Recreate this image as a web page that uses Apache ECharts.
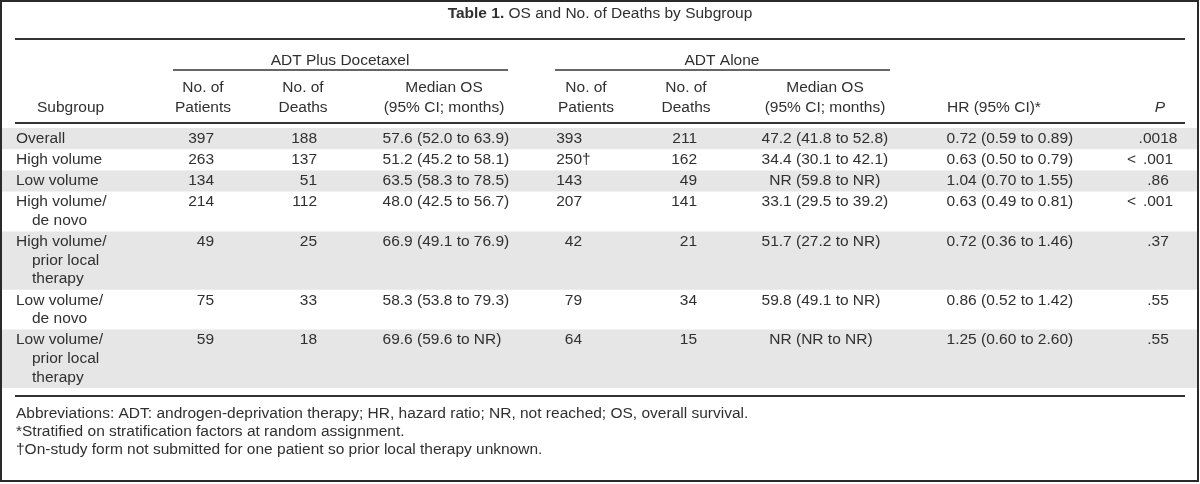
<!DOCTYPE html>
<html>
<head>
<meta charset="utf-8">
<script src="https://cdn.jsdelivr.net/npm/echarts@6/dist/echarts.min.js"></script>
<style>
html,body{margin:0;padding:0;background:#ffffff;}
#chart{width:1200px;height:484px;}
</style>
</head>
<body>
<div id="chart"></div>
<script>
// ---------------- DATA ----------------
const tableLabel = 'Table 1.';
const tableTitle = 'OS and No. of Deaths by Subgroup';
const groupHeaders = ['ADT Plus Docetaxel', 'ADT Alone'];
const columnHeaders = [
  ['Subgroup'],
  ['No. of', 'Patients'], ['No. of', 'Deaths'], ['Median OS', '(95% CI; months)'],
  ['No. of', 'Patients'], ['No. of', 'Deaths'], ['Median OS', '(95% CI; months)'],
  ['HR (95% CI)*'], ['P']
];
const subgroups = [
  ['Overall'],
  ['High volume'],
  ['Low volume'],
  ['High volume/', 'de novo'],
  ['High volume/', 'prior local', 'therapy'],
  ['Low volume/', 'de novo'],
  ['Low volume/', 'prior local', 'therapy']
];
const docPatients = [397, 263, 134, 214, 49, 75, 59];
const docDeaths = [188, 137, 51, 112, 25, 33, 18];
const docMedianOS = ['57.6 (52.0 to 63.9)', '51.2 (45.2 to 58.1)', '63.5 (58.3 to 78.5)', '48.0 (42.5 to 56.7)', '66.9 (49.1 to 76.9)', '58.3 (53.8 to 79.3)', '69.6 (59.6 to NR)'];
const adtPatients = [393, 250, 143, 207, 42, 79, 64];
const adtPatientMarks = ['', '†', '', '', '', '', ''];
const adtDeaths = [211, 162, 49, 141, 21, 34, 15];
const adtMedianOS = ['47.2 (41.8 to 52.8)', '34.4 (30.1 to 42.1)', 'NR (59.8 to NR)', '33.1 (29.5 to 39.2)', '51.7 (27.2 to NR)', '59.8 (49.1 to NR)', 'NR (NR to NR)'];
const hazardRatios = ['0.72 (0.59 to 0.89)', '0.63 (0.50 to 0.79)', '1.04 (0.70 to 1.55)', '0.63 (0.49 to 0.81)', '0.72 (0.36 to 1.46)', '0.86 (0.52 to 1.42)', '1.25 (0.60 to 2.60)'];
const pValues = ['.0018', '< .001', '.86', '< .001', '.37', '.55', '.55'];
const footnotes = [
  'Abbreviations: ADT: androgen-deprivation therapy; HR, hazard ratio; NR, not reached; OS, overall survival.',
  '*Stratified on stratification factors at random assignment.',
  '†On-study form not submitted for one patient so prior local therapy unknown.'
];

// ---------------- STYLE / LAYOUT ----------------
const FONT_FAMILY = '"Liberation Sans", Arial, Helvetica, sans-serif';
const FS = 15.5;
const FONT = FS + 'px ' + FONT_FAMILY;
const TEXT = '#303030';
const RULE = '#333333';
const BAND = '#e6e6e6';
const L = {
  sub: 16, indent: 16,
  docPat: 214, docDeath: 317, docParen: 417,
  adtPat: 582, adtDeath: 697, adtParen: 796,
  hrParen: 981, pCenter: 1158,
  bandLeft: 2, bandRight: 1197
};
const H = {
  subgroup: 37, docPat: 203, docDeath: 303, docMed: 444,
  adtPat: 586, adtDeath: 686, adtMed: 825, hr: 947, p: 1160
};
const ROW_PAD = 0.14; // in line units

const measureCtx = document.createElement('canvas').getContext('2d');
function textWidth(t, font) { measureCtx.font = font || FONT; return measureCtx.measureText(t).width; }

function txt(text, x, y, align, extra) {
  const st = Object.assign({
    text: text, fill: TEXT, font: FONT,
    align: align, textAlign: align,
    verticalAlign: 'middle', textVerticalAlign: 'middle'
  }, extra || {});
  return { type: 'text', x: x, y: y, style: st, silent: true };
}
function splitCI(s) {
  const k = s.indexOf(' (');
  return [s.slice(0, k), s.slice(k + 1)];
}

// row layout in "line" units, derived from number of label lines
let cursor = 0;
const rowData = subgroups.map(function (s, i) {
  const r = [i, cursor, s.length];
  cursor += s.length + ROW_PAD;
  return r;
});
const TOTAL_UNITS = cursor;

function renderRow(params, api) {
  const i = api.value(0), start = api.value(1), n = api.value(2);
  const X = function (v) { return api.coord([v, 0])[0]; };
  const yTop = api.coord([0, start])[1];
  const yBot = api.coord([0, start + n + ROW_PAD])[1];
  const lineY = function (k) { return api.coord([0, start + ROW_PAD / 2 + k + 0.5])[1]; };
  const children = [];
  if (i % 2 === 0) {
    children.push({ type: 'rect', shape: { x: X(L.bandLeft), y: yTop, width: X(L.bandRight) - X(L.bandLeft), height: yBot - yTop }, style: { fill: BAND }, silent: true });
  }
  subgroups[i].forEach(function (t, k) {
    children.push(txt(t, X(k ? L.sub + L.indent : L.sub), lineY(k), 'left'));
  });
  const y0 = lineY(0);
  const sp = textWidth(' ');
  children.push(txt(String(docPatients[i]), X(L.docPat), y0, 'right'));
  children.push(txt(String(docDeaths[i]), X(L.docDeath), y0, 'right'));
  let p = splitCI(docMedianOS[i]);
  children.push(txt(p[0], X(L.docParen) - sp, y0, 'right'));
  children.push(txt(p[1], X(L.docParen), y0, 'left'));
  children.push(txt(String(adtPatients[i]), X(L.adtPat), y0, 'right'));
  if (adtPatientMarks[i]) children.push(txt(adtPatientMarks[i], X(L.adtPat), y0, 'left'));
  children.push(txt(String(adtDeaths[i]), X(L.adtDeath), y0, 'right'));
  p = splitCI(adtMedianOS[i]);
  children.push(txt(p[0], X(L.adtParen) - sp, y0, 'right'));
  children.push(txt(p[1], X(L.adtParen), y0, 'left'));
  p = splitCI(hazardRatios[i]);
  children.push(txt(p[0], X(L.hrParen) - sp, y0, 'right'));
  children.push(txt(p[1], X(L.hrParen), y0, 'left'));
  const pv = pValues[i];
  if (pv.indexOf('< ') === 0) {
    const num = pv.slice(2);
    const w = textWidth(num);
    children.push(txt(num, X(L.pCenter), y0, 'center'));
    children.push(txt('<', X(L.pCenter) - w / 2 - sp * 1.6, y0, 'right'));
  } else {
    children.push(txt(pv, X(L.pCenter), y0, 'center'));
  }
  return { type: 'group', children: children };
}

// ---------------- STATIC GRAPHICS (title, headers, rules, notes) ----------------
const g = [];
g.push({ type: 'rect', shape: { x: 1, y: 1, width: 1197, height: 480 }, style: { fill: null, stroke: '#2a2a2a', lineWidth: 2 }, silent: true });
g.push({
  type: 'text', x: 600, y: 14, silent: true,
  style: {
    text: '{b|' + tableLabel + '} ' + tableTitle,
    font: FONT, fill: TEXT, align: 'center', textAlign: 'center', verticalAlign: 'middle', textVerticalAlign: 'middle',
    rich: { b: { fontWeight: 'bold', fontSize: FS, fontFamily: FONT_FAMILY, fill: TEXT } }
  }
});
function hline(x1, x2, y, w) {
  g.push({ type: 'line', shape: { x1: x1, y1: y, x2: x2, y2: y }, style: { stroke: RULE, lineWidth: w }, silent: true });
}
hline(15, 1185, 39, 2);
hline(173, 508, 70, 1.5);
hline(555, 890, 70, 1.5);
hline(15, 1185, 123, 2);
hline(15, 1185, 396, 2);
g.push(txt(groupHeaders[0], 340, 61, 'center'));
g.push(txt(groupHeaders[1], 722, 61, 'center'));
const headerX = [H.subgroup, H.docPat, H.docDeath, H.docMed, H.adtPat, H.adtDeath, H.adtMed, H.hr, H.p];
const headerAlign = ['left', 'center', 'center', 'center', 'center', 'center', 'center', 'left', 'center'];
columnHeaders.forEach(function (lines, c) {
  const ys = lines.length === 2 ? [88, 108] : [108];
  lines.forEach(function (t, k) {
    g.push(txt(t, headerX[c], ys[k], headerAlign[c], c === 8 ? { fontStyle: 'italic', font: 'italic ' + FONT } : null));
  });
});
footnotes.forEach(function (t, k) {
  g.push(txt(t, 16, [414, 432, 450][k], 'left'));
});

// ---------------- CHART ----------------
const chart = echarts.init(document.getElementById('chart'), null, { renderer: 'canvas' });
chart.setOption({
  backgroundColor: '#ffffff',
  animation: false,
  grid: { left: 0, right: 0, top: 128, bottom: 96, show: false },
  xAxis: { type: 'value', min: 0, max: 1200, show: false },
  yAxis: { type: 'value', min: 0, max: TOTAL_UNITS, inverse: true, show: false },
  graphic: { elements: g },
  series: [{
    type: 'custom',
    clip: false,
    silent: true,
    encode: { x: 0, y: 1 },
    data: rowData,
    renderItem: renderRow,
    z: 2
  }]
});
</script>
</body>
</html>
